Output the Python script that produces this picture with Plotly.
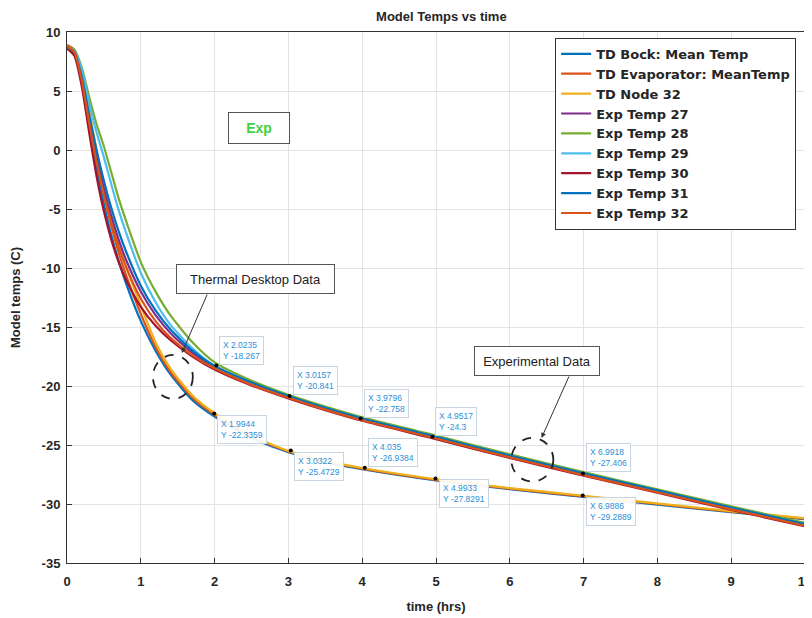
import plotly.graph_objects as go

# ---------------- data ----------------
time_hrs = [0, 0.1, 0.2, 0.3, 0.4, 0.5, 0.6, 0.7, 0.8, 1.0, 1.2, 1.4, 1.7, 2.0,
            2.5, 3.0, 3.5, 4.0, 5.0, 6.0, 7.0, 8.0, 9.0, 10.0]

td_bock = [8.7, 8.2, 5.8, 2.0, -1.6, -4.6, -7.2, -9.4, -11.3, -14.5, -17.0, -19.0, -21.2, -22.6,
           -24.4, -25.6, -26.45, -27.05, -28.0, -28.75, -29.4, -30.05, -30.7, -31.3]
td_evap = [8.9, 8.5, 6.3, 2.8, -0.7, -3.8, -6.4, -8.7, -10.6, -13.9, -16.7, -18.8, -21.0, -22.45,
           -24.3, -25.55, -26.4, -27.0, -27.95, -28.7, -29.35, -30.0, -30.65, -31.25]
td_node32 = [8.8, 8.4, 6.6, 3.4, 0.0, -3.0, -5.6, -7.9, -9.9, -13.2, -16.3, -18.5, -20.8, -22.3,
             -24.2, -25.5, -26.35, -26.95, -27.9, -28.65, -29.3, -29.95, -30.6, -31.2]
exp27 = [8.6, 8.2, 6.0, 2.6, -0.6, -3.3, -5.6, -7.6, -9.3, -12.0, -14.0, -15.5, -17.2, -18.4,
         -19.8, -20.95, -21.95, -22.85, -24.4, -26.0, -27.5, -28.95, -30.4, -31.8]
exp28 = [8.8, 8.5, 7.0, 4.5, 2.2, 0.3, -1.9, -4.1, -6.0, -9.5, -12.0, -14.0, -16.3, -18.0,
         -19.55, -20.75, -21.75, -22.65, -24.2, -25.8, -27.3, -28.75, -30.2, -31.6]
exp29 = [8.7, 8.4, 6.8, 4.0, 1.5, -0.6, -2.9, -5.1, -7.0, -10.4, -12.9, -14.8, -16.8, -18.3,
         -19.75, -20.9, -21.9, -22.8, -24.35, -25.95, -27.45, -28.9, -30.35, -31.75]
exp30 = [8.6, 8.0, 5.4, 1.5, -2.2, -5.2, -7.6, -9.5, -11.0, -13.3, -14.9, -16.1, -17.5, -18.6,
         -19.95, -21.05, -22.05, -22.95, -24.5, -26.1, -27.6, -29.05, -30.5, -31.9]
exp31 = [8.7, 8.3, 6.2, 3.0, 0.0, -2.6, -4.9, -6.9, -8.6, -11.5, -13.6, -15.2, -17.0, -18.3,
         -19.7, -20.85, -21.85, -22.75, -24.3, -25.9, -27.4, -28.85, -30.3, -31.7]
exp32 = [8.8, 8.3, 5.9, 2.3, -1.0, -3.8, -6.2, -8.2, -9.9, -12.6, -14.5, -15.9, -17.4, -18.5,
         -19.9, -21.0, -22.0, -22.9, -24.45, -26.05, -27.55, -29.0, -30.45, -31.85]

series_names = ["TD Bock: Mean Temp", "TD Evaporator: MeanTemp", "TD Node 32",
                "Exp Temp 27", "Exp Temp 28", "Exp Temp 29", "Exp Temp 30",
                "Exp Temp 31", "Exp Temp 32"]
series_values = [td_bock, td_evap, td_node32, exp27, exp28, exp29, exp30, exp31, exp32]
series_colors = ["#0072BD", "#D95319", "#EDB120", "#7E2F8E", "#77AC30",
                 "#4DBEEE", "#A2142F", "#0072BD", "#D95319"]

x_ticks = [0, 1, 2, 3, 4, 5, 6, 7, 8, 9, 10]
x_tick_text = ["0", "1", "2", "3", "4", "5", "6", "7", "8", "9", "10"]
y_ticks = [10, 5, 0, -5, -10, -15, -20, -25, -30, -35]
y_tick_text = ["10", "5", "0", "-5", "-10", "-15", "-20", "-25", "-30", "-35"]

# data tips: x, y, label text, box placement (above / below the point)
tip_x = [2.0235, 3.0157, 3.9796, 4.9517, 6.9918, 1.9944, 3.0322, 4.035, 4.9933, 6.9886]
tip_y = [-18.267, -20.841, -22.758, -24.3, -27.406, -22.3359, -25.4729, -26.9384, -27.8291, -29.2889]
tip_x_txt = ["2.0235", "3.0157", "3.9796", "4.9517", "6.9918", "1.9944", "3.0322", "4.035", "4.9933", "6.9886"]
tip_y_txt = ["-18.267", "-20.841", "-22.758", "-24.3", "-27.406", "-22.3359", "-25.4729", "-26.9384", "-27.8291", "-29.2889"]
tip_above = [True, True, True, True, True, False, False, True, False, False]

# ---------------- figure ----------------
fig = go.Figure()
for name, vals, col in zip(series_names, series_values, series_colors):
    fig.add_trace(go.Scatter(x=time_hrs, y=vals, mode="lines", name=name,
                             line=dict(color=col, width=2.2, shape="spline", smoothing=0.6)))

fig.add_trace(go.Scatter(x=tip_x, y=tip_y, mode="markers", showlegend=False,
                         marker=dict(color="black", size=4), hoverinfo="skip"))

for tx, ty, sx, sy, above in zip(tip_x, tip_y, tip_x_txt, tip_y_txt, tip_above):
    fig.add_annotation(x=tx, y=ty, xref="x", yref="y", showarrow=False,
                       text=f"X {sx}<br>Y {sy}", align="left",
                       xanchor="left", yanchor="bottom" if above else "top",
                       xshift=3, yshift=1 if above else -1,
                       font=dict(family="Liberation Sans", size=8.5, color="#2b8fd6"),
                       bgcolor="rgba(255,255,255,0.92)", bordercolor="#c8d4e0",
                       borderwidth=1, borderpad=3)

# text boxes
fig.add_annotation(x=2.6, y=1.86, xref="x", yref="y", showarrow=False, text="<b>Exp</b>",
                   font=dict(family="Liberation Sans", size=14, color="#3fd13f"),
                   bgcolor="white", bordercolor="#555555", borderwidth=1, width=58, height=28)
fig.add_annotation(x=2.56, y=-10.9, xref="x", yref="y", showarrow=False,
                   text="Thermal Desktop Data",
                   font=dict(family="Liberation Sans", size=13, color="#222222"),
                   bgcolor="white", bordercolor="#555555", borderwidth=1, width=155, height=26)
fig.add_annotation(x=6.37, y=-17.9, xref="x", yref="y", showarrow=False,
                   text="Experimental Data",
                   font=dict(family="Liberation Sans", size=13, color="#222222"),
                   bgcolor="white", bordercolor="#555555", borderwidth=1, width=122, height=26)

# arrows
fig.add_annotation(x=1.556, y=-17.2, ax=1.908, ay=-12.12, xref="x", yref="y",
                   axref="x", ayref="y", showarrow=True, arrowhead=2, arrowsize=1,
                   arrowwidth=1, arrowcolor="#333333", text="")
fig.add_annotation(x=6.43, y=-24.4, ax=6.81, ay=-19.07, xref="x", yref="y",
                   axref="x", ayref="y", showarrow=True, arrowhead=2, arrowsize=1,
                   arrowwidth=1, arrowcolor="#333333", text="")

# dashed circles
fig.add_shape(type="circle", xref="x", yref="y", x0=1.164, x1=1.705, y0=-21.1, y1=-17.37,
              line=dict(color="#222222", width=1.8, dash="dash"))
fig.add_shape(type="circle", xref="x", yref="y", x0=6.02, x1=6.59, y0=-28.1, y1=-24.4,
              line=dict(color="#222222", width=1.8, dash="dash"))

axis_common = dict(showline=True, mirror=True, linecolor="#333333", linewidth=1,
                   ticks="inside", ticklen=5, tickcolor="#333333", automargin=False,
                   showgrid=True, gridcolor="#e3e3e3", gridwidth=1, zeroline=False,
                   tickfont=dict(family="Liberation Sans", size=13, color="#262626", weight="bold"))

fig.update_xaxes(range=[0, 10], tickvals=x_ticks, ticktext=x_tick_text, ticklabelstandoff=6,
                 title=dict(text="<b>time (hrs)</b>", standoff=14,
                            font=dict(family="Liberation Sans", size=13, color="#262626")),
                 **axis_common)
fig.update_yaxes(range=[-35, 10], tickvals=y_ticks, ticktext=y_tick_text, ticklabelstandoff=3,
                 title=dict(text="<b>Model temps (C)</b>", standoff=22,
                            font=dict(family="Liberation Sans", size=13, color="#262626")),
                 **axis_common)

# the page puts the figure 8 px in from the top-left corner, so size it to reach the window edge
fig.update_layout(
    width=807, height=610,
    margin=dict(l=59, r=10, t=24, b=55),
    paper_bgcolor="white", plot_bgcolor="white",
    title=dict(text="<b>Model Temps vs time</b>", x=0.537, xanchor="center",
               xref="container", yref="container", y=1 - 8 / 610, yanchor="middle",
               font=dict(family="Liberation Sans", size=13, color="#262626")),
    legend=dict(x=0.988, y=0.989, xanchor="right", yanchor="top",
                bgcolor="white", bordercolor="#333333", borderwidth=1,
                font=dict(family="DejaVu Sans", size=13, color="#262626", weight="bold"),
                tracegroupgap=0, itemwidth=30),
    showlegend=True,
)

fig.write_html("out.html")
